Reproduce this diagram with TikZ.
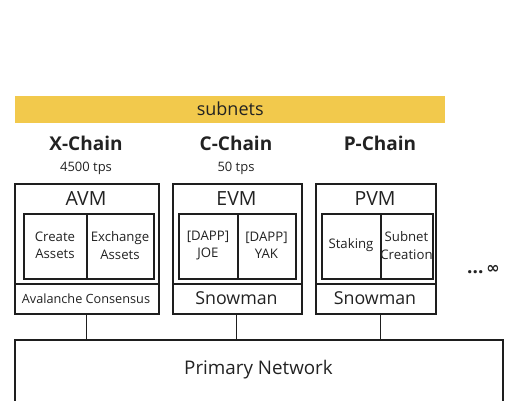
\documentclass[tikz,border=0pt]{standalone}
\usepackage{fontspec}
\setmainfont{Open Sans}
\newfontfamily\djv{DejaVu Sans}
\definecolor{barY}{HTML}{F2C94C}
\definecolor{ink}{HTML}{1E1E1E}
\definecolor{txt}{HTML}{222222}
\begin{document}
\begin{tikzpicture}[x=1pt,y=-1pt,
  outerbox/.style={draw=ink,line width=1.7pt,anchor=north west,inner sep=0pt},
  innerbox/.style={draw=ink,line width=2.1pt,anchor=north west,inner sep=0pt},
  chain/.style={font=\fontsize{19}{21}\selectfont\bfseries,text=txt},
  tps/.style={font=\fontsize{13}{14}\selectfont,text=txt},
  vm/.style={font=\fontsize{19.5}{21}\selectfont,text=txt},
  cell/.style={font=\fontsize{13.2}{17.5}\selectfont,text=txt,align=center},
  cons/.style={font=\fontsize{17.8}{20}\selectfont,text=txt},
  tick/.style={draw=ink,line width=0.8pt}]
\useasboundingbox (0,0) rectangle (520,400);
% subnets bar
\node[fill=barY,anchor=north west,minimum width=430pt,minimum height=27pt,inner sep=0pt,
  font=\fontsize{18}{20}\selectfont,text=txt] (sub) at (15,95.5) {subnets};
% chain titles
\node[chain] (xt) at (86,143) {X-Chain};
\node[chain] (ct) at (236,143) {C-Chain};
\node[chain] (pt) at (380,143) {P-Chain};
\node[tps] (xtps) at (86,168) {4500 tps};
\node[tps] (ctps) at (236,168) {50 tps};
% X chain
\node[outerbox,minimum width=144pt,minimum height=130pt] (xbox) at (14,183) {};
\node[vm] (avm) at (86,199) {AVM};
\node[innerbox,minimum width=130pt,minimum height=65pt] (xin) at (23,213) {};
\draw[ink,line width=2.1pt] (87,213) -- (87,278);
\node[cell] (xa) at (55,245.5) {Create\\Assets};
\node[cell] (xb) at (120,245.5) {Exchange\\Assets};
\draw[ink,line width=2.1pt] (14,284) -- (158,284);
\node[font=\fontsize{12.7}{14}\selectfont,text=txt] (xcons) at (86,298.5) {Avalanche Consensus};
% C chain
\node[outerbox,minimum width=129pt,minimum height=130pt] (cbox) at (172,183) {};
\node[vm] (evm) at (236.5,199) {EVM};
\node[innerbox,minimum width=117pt,minimum height=65pt] (cin) at (178,213) {};
\draw[ink,line width=2.1pt] (238,213) -- (238,278);
\node[cell] (ca) at (208,245.5) {[DAPP]\\JOE};
\node[cell] (cb) at (266.5,245.5) {[DAPP]\\YAK};
\draw[ink,line width=2.1pt] (172,284) -- (301,284);
\node[cons] (ccons) at (236.5,298) {Snowman};
% P chain
\node[outerbox,minimum width=120pt,minimum height=130pt] (pbox) at (315,183) {};
\node[vm] (pvm) at (375,199) {PVM};
\node[innerbox,minimum width=111pt,minimum height=65pt] (pin) at (321,213) {};
\draw[ink,line width=2.1pt] (381,213) -- (381,278);
\node[cell] (pa) at (351,245.5) {Staking};
\node[cell] (pb) at (406.5,245.5) {Subnet\\Creation};
\draw[ink,line width=2.1pt] (315,284) -- (435,284);
\node[cons] (pcons) at (375,298) {Snowman};
% dots
\node[text=txt,font=\fontsize{19}{19}\selectfont\bfseries,anchor=base west,inner sep=0pt] (dots) at (467,273.5) {...\hspace{3pt}{\djv\bfseries\fontsize{16}{16}\selectfont ∞}};
% primary network
\node[outerbox,minimum width=488pt,minimum height=80pt] (pn) at (14,339) {};
\node[font=\fontsize{18.8}{20}\selectfont,text=txt] (pnt) at (258.5,370) {Primary Network};
% ticks
\coordinate (tx) at (86.5,313);
\coordinate (tc) at (236.5,313);
\coordinate (tp) at (380,313);
\draw[tick] (tx) -- (tx |- pn.north);
\draw[tick] (tc) -- (tc |- pn.north);
\draw[tick] (tp) -- (tp |- pn.north);
\end{tikzpicture}
\end{document}
